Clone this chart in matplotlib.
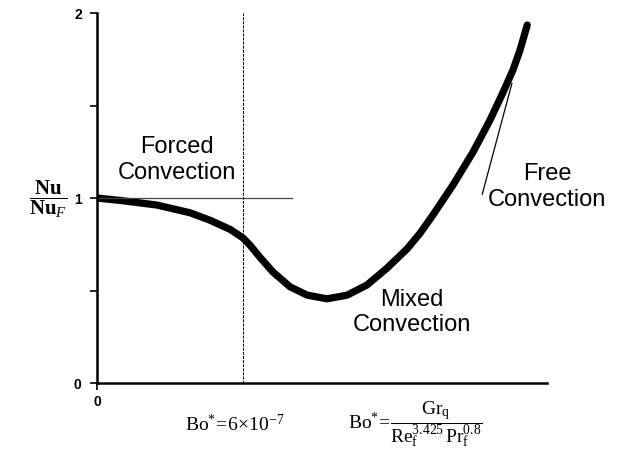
import matplotlib
matplotlib.use("Agg")
import matplotlib.pyplot as plt

plt.rcParams['font.family'] = ['Liberation Sans', 'DejaVu Sans']
plt.rcParams['mathtext.fontset'] = 'custom'
plt.rcParams['mathtext.rm'] = 'Liberation Serif'
plt.rcParams['mathtext.it'] = 'Liberation Serif:italic'
plt.rcParams['mathtext.bf'] = 'Liberation Serif:bold'

# Nu/Nu_F against Bo* (arbitrary linear x units, 0 at origin)
bo = [0.0, 0.58, 1.33, 2.07, 2.51, 2.96, 3.24, 3.40, 3.62, 3.91, 4.29, 4.67,
      5.11, 5.56, 6.0, 6.44, 6.89, 7.18, 7.47, 7.91, 8.36, 8.73, 9.02, 9.24,
      9.40, 9.56]
nu_ratio = [1.0, 0.985, 0.962, 0.92, 0.88, 0.83, 0.785, 0.745, 0.68, 0.60, 0.52, 0.475,
            0.455, 0.475, 0.53, 0.62, 0.725, 0.81, 0.91, 1.07, 1.25, 1.42, 1.57, 1.69,
            1.80, 1.935]
bo_transition = 3.24
forced_end = 4.33
free_pointer_x = [8.56, 9.22]
free_pointer_y = [1.02, 1.62]

fig = plt.figure(figsize=(6.33, 4.53), dpi=100)
ax = fig.add_axes([0.1532, 0.1545, 0.711, 0.8168])

ax.plot(bo, nu_ratio, color="black", lw=5.2, solid_capstyle="round", solid_joinstyle="round")
ax.axvline(bo_transition, color="black", lw=0.7, linestyle=(0, (3, 1.2)))
ax.plot([0, forced_end], [1, 1], color="#444444", lw=0.9)
ax.plot(free_pointer_x, free_pointer_y, color="black", lw=0.9)

ax.set_xlim(0, 10)
ax.set_ylim(0, 2)
ax.set_xticks([0])
ax.set_yticks([0, 1, 2])
ax.set_yticks([0.5, 1.5], minor=True)
ax.tick_params(axis="both", which="both", direction="out", width=1.2, length=5,
               labelsize=10)
for lab in ax.get_xticklabels() + ax.get_yticklabels():
    lab.set_fontweight("bold")
ax.tick_params(axis="y", pad=6)
ax.spines["top"].set_visible(False)
ax.spines["right"].set_visible(False)
ax.spines["left"].set_linewidth(1.8)
ax.spines["bottom"].set_linewidth(1.8)

ax.text(1.78, 1.205, "Forced\nConvection", ha="center", va="center", fontsize=17,
        linespacing=1.2)
ax.text(7.0, 0.38, "Mixed\nConvection", ha="center", va="center", fontsize=17,
        linespacing=1.2)
ax.text(10.0, 1.06, "Free\nConvection", ha="center", va="center", fontsize=17,
        linespacing=1.2, clip_on=False)

fig.text(48 / 633, 1 - 199 / 453, r"$\dfrac{\mathbf{Nu}}{\mathbf{Nu}_{F}}$",
         ha="center", va="center", fontsize=15)
fig.text(235 / 633, 1 - 425 / 453, r"$\mathrm{Bo}^{*}\!=\!6\!\times\!10^{-7}$",
         ha="center", va="center", fontsize=14)
fig.text(415 / 633, 1 - 424 / 453,
         r"$\mathrm{Bo}^{*}\!=\!\dfrac{\mathrm{Gr_q}}{\mathrm{Re_f^{3.425}\,Pr_f^{0.8}}}$",
         ha="center", va="center", fontsize=14)

fig.savefig("out.png", dpi=100)
